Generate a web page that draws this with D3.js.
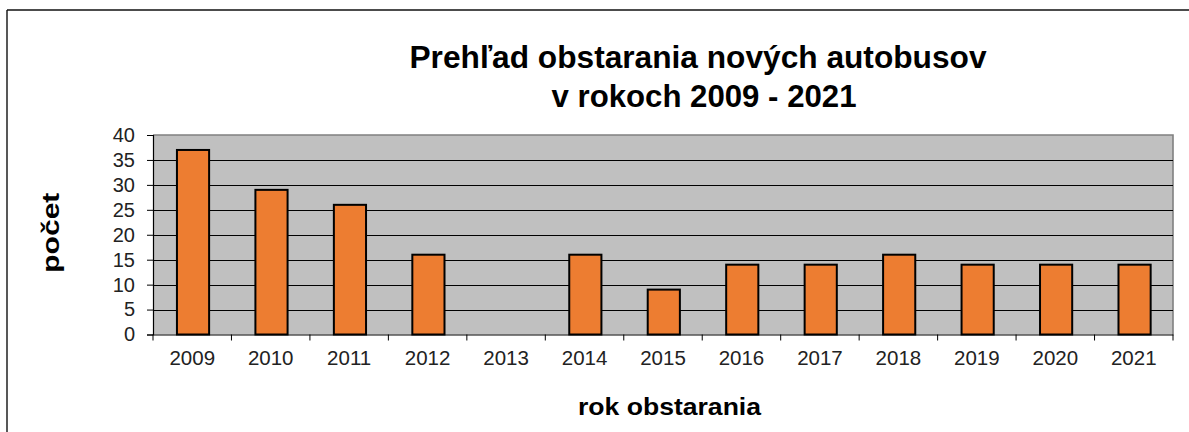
<!DOCTYPE html>
<html>
<head>
<meta charset="utf-8">
<script src="https://cdn.jsdelivr.net/npm/d3@7"></script>
<style>
html,body{margin:0;padding:0;background:#fff;}
svg{display:block;}
text{font-family:"Liberation Sans",Arial,sans-serif;}
</style>
</head>
<body>
<script>
const years = ["2009","2010","2011","2012","2013","2014","2015","2016","2017","2018","2019","2020","2021"];
const counts = [37,29,26,16,0,16,9,14,14,16,14,14,14];
const yTicks = [0,5,10,15,20,25,30,35,40];
const titleLines = ["Prehľad obstarania nových autobusov","v rokoch 2009 - 2021"];
const xTitle = "rok obstarania";
const yTitle = "počet";

const W = 1189, H = 432;
const m = {left:153, top:135, right:1173, bottom:334.5};

const svg = d3.select("body").append("svg").attr("width",W).attr("height",H);

// outer frame (top + left visible)
svg.append("line").attr("x1",7).attr("x2",W).attr("y1",10).attr("y2",10).attr("stroke","#111").attr("stroke-width",1.4);
svg.append("line").attr("x1",7).attr("x2",7).attr("y1",10).attr("y2",H).attr("stroke","#111").attr("stroke-width",1.4);

const x = d3.scaleBand().domain(years).range([m.left,m.right]).padding(0);
const y = d3.scaleLinear().domain([0,40]).range([m.bottom,m.top]);

// plot background
svg.append("rect").attr("x",m.left).attr("y",m.top).attr("width",m.right-m.left).attr("height",m.bottom-m.top)
  .attr("fill","#C0C0C0");
// plot border top/right gray
svg.append("path").attr("d",`M${m.left},${m.top}H${m.right}V${m.bottom}`).attr("fill","none").attr("stroke","#808080").attr("stroke-width",1.6);

// gridlines
svg.append("g").selectAll("line").data(yTicks.filter(d=>d>0&&d<40)).join("line")
  .attr("x1",m.left).attr("x2",m.right).attr("y1",d=>Math.round(y(d))+0.5).attr("y2",d=>Math.round(y(d))+0.5)
  .attr("stroke","#000").attr("stroke-width",1);

// bars
const bw = x.bandwidth()*0.41;
svg.append("g").selectAll("rect").data(years).join("rect")
  .attr("x",(d)=>x(d)+x.bandwidth()/2-bw/2+0.8)
  .attr("width",bw)
  .attr("y",(d,i)=>y(counts[i]))
  .attr("height",(d,i)=>m.bottom-y(counts[i]))
  .attr("fill",(d,i)=>counts[i]>0?"#ED7D31":"none")
  .attr("stroke",(d,i)=>counts[i]>0?"#000":"none")
  .attr("stroke-width",2);

// y axis
const yAxis = d3.axisLeft(y).tickValues(yTicks).tickSize(6).tickPadding(12);
const gy = svg.append("g").attr("transform",`translate(${m.left},0)`).call(yAxis);
gy.select(".domain").attr("stroke","#000").attr("stroke-width",1.2);
gy.selectAll(".tick line").attr("stroke","#000");
gy.selectAll(".tick text").attr("font-size",20).attr("fill","#222").attr("font-family","Liberation Sans, Arial, sans-serif");

// x axis
const xAxis = d3.axisBottom(x).tickSize(0).tickPadding(16);
const gx = svg.append("g").attr("transform",`translate(0,${m.bottom})`).call(xAxis);
gx.select(".domain").attr("stroke","#000").attr("stroke-width",1.2);
gx.selectAll(".tick text").attr("font-size",20.5).attr("fill","#222").attr("font-family","Liberation Sans, Arial, sans-serif");
// category boundary ticks
gx.append("g").selectAll("line").data(years.concat(["end"])).join("line")
  .attr("x1",(d,i)=>i<years.length?x(d):m.right).attr("x2",(d,i)=>i<years.length?x(d):m.right)
  .attr("y1",0).attr("y2",6).attr("stroke","#000").attr("stroke-width",1);

// title
svg.append("text").attr("x",698).attr("y",68).attr("text-anchor","middle")
  .attr("font-size",31).attr("font-weight","bold").attr("fill","#000")
  .attr("textLength",577).attr("lengthAdjust","spacingAndGlyphs").text(titleLines[0]);
svg.append("text").attr("x",704).attr("y",106.5).attr("text-anchor","middle")
  .attr("font-size",31).attr("font-weight","bold").attr("fill","#000")
  .attr("textLength",305).attr("lengthAdjust","spacingAndGlyphs").text(titleLines[1]);

// axis titles
svg.append("text").attr("x",669.5).attr("y",415).attr("text-anchor","middle")
  .attr("font-size",23).attr("font-weight","bold").attr("fill","#000")
  .attr("textLength",183).attr("lengthAdjust","spacingAndGlyphs").text(xTitle);
svg.append("text").attr("transform","translate(59,232.7) rotate(-90)").attr("text-anchor","middle")
  .attr("font-size",23).attr("font-weight","bold").attr("fill","#000")
  .attr("textLength",80).attr("lengthAdjust","spacingAndGlyphs").text(yTitle);
</script>
</body>
</html>
